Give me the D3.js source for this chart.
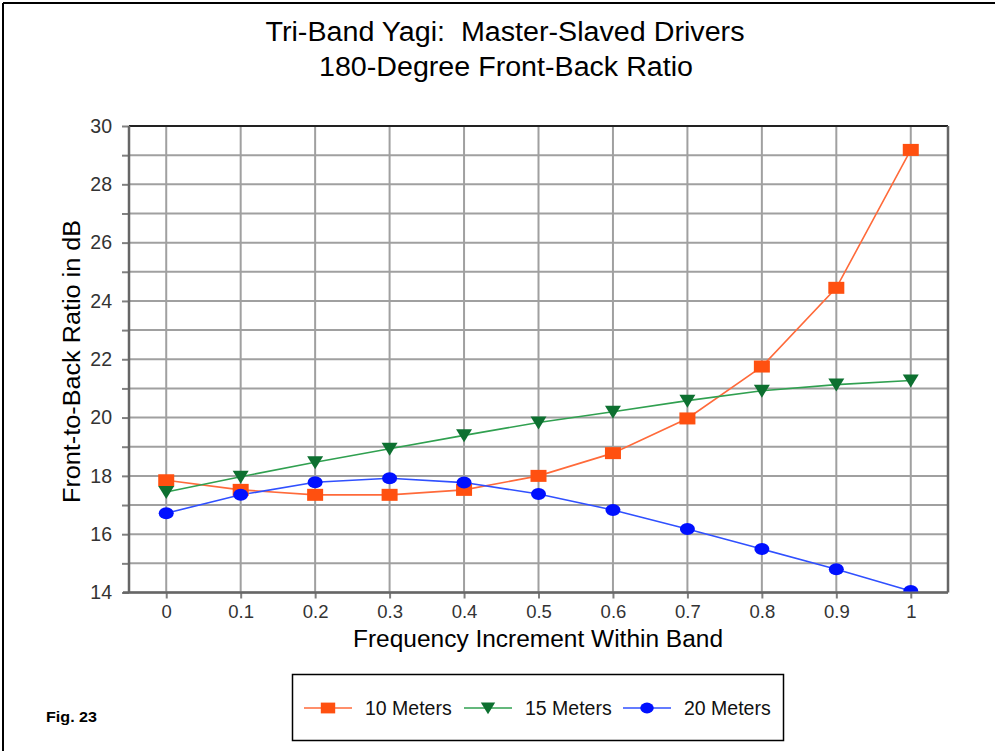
<!DOCTYPE html>
<html><head><meta charset="utf-8">
<script src="https://cdn.jsdelivr.net/npm/d3@7"></script>
<style>html,body{margin:0;padding:0;background:#fff;}svg{display:block;}</style>
</head><body>
<svg id="chart" width="995" height="751"></svg>
<script>
const xValues = [0, 0.1, 0.2, 0.3, 0.4, 0.5, 0.6, 0.7, 0.8, 0.9, 1];
const m10 = [17.85, 17.52, 17.35, 17.35, 17.52, 18.0, 18.78, 19.97, 21.75, 24.45, 29.18];
const m15 = [17.45, 17.97, 18.47, 18.93, 19.39, 19.83, 20.2, 20.58, 20.92, 21.13, 21.27];
const m20 = [16.72, 17.35, 17.78, 17.92, 17.77, 17.38, 16.83, 16.18, 15.49, 14.8, 14.05];
const seriesNames = ["10 Meters", "15 Meters", "20 Meters"];
const xTickLabels = ["0", "0.1", "0.2", "0.3", "0.4", "0.5", "0.6", "0.7", "0.8", "0.9", "1"];
const yTickValues = [14, 16, 18, 20, 22, 24, 26, 28, 30];

const series = [
  {name: seriesNames[0], values: m10, line: "#ff6a3a", fill: "#ff5010", shape: "square"},
  {name: seriesNames[1], values: m15, line: "#30a050", fill: "#0d7030", shape: "triangle"},
  {name: seriesNames[2], values: m20, line: "#3050ff", fill: "#0010ff", shape: "circle"}
];

const svg = d3.select("#chart");
const font = "'Liberation Sans', Arial, sans-serif";
const L = 129, R = 948, T = 126, B = 592.5;
const x = d3.scaleLinear().domain([-0.05, 1.05]).range([L, R]);
const y = d3.scaleLinear().domain([14, 30]).range([B, T]);

// outer frame
svg.append("line").attr("x1", 3).attr("x2", 995).attr("y1", 3).attr("y2", 3).attr("stroke", "#000").attr("stroke-width", 2);
svg.append("line").attr("x1", 3).attr("x2", 3).attr("y1", 3).attr("y2", 751).attr("stroke", "#000").attr("stroke-width", 2);

// titles
svg.append("text").attr("x", 505).attr("y", 41).attr("text-anchor", "middle")
  .attr("font-family", font).attr("font-size", 27).attr("fill", "#000")
  .attr("textLength", 479).attr("lengthAdjust", "spacingAndGlyphs")
  .text("Tri-Band Yagi:\u00a0\u00a0Master-Slaved Drivers");
svg.append("text").attr("x", 506).attr("y", 76).attr("text-anchor", "middle")
  .attr("font-family", font).attr("font-size", 27).attr("fill", "#000")
  .attr("textLength", 374).attr("lengthAdjust", "spacingAndGlyphs")
  .text("180-Degree Front-Back Ratio");

// gridlines
const yGrid = d3.range(14, 31, 1);
svg.append("g").selectAll("line").data(yGrid).join("line")
  .attr("x1", L).attr("x2", R).attr("y1", d => y(d)).attr("y2", d => y(d))
  .attr("stroke", "#a0a0a0").attr("stroke-width", 2);
svg.append("g").selectAll("line").data(xValues).join("line")
  .attr("x1", d => x(d)).attr("x2", d => x(d)).attr("y1", T).attr("y2", B)
  .attr("stroke", "#a0a0a0").attr("stroke-width", 2);

// axes
const yAxis = d3.axisLeft(y).tickValues(yGrid).tickSize(7).tickPadding(10)
  .tickFormat(d => yTickValues.includes(d) ? String(d) : "");
const gy = svg.append("g").attr("transform", `translate(${L},0)`).call(yAxis);
gy.select(".domain").remove();
gy.selectAll(".tick line").attr("stroke", "#808080").attr("stroke-width", 2);
gy.selectAll(".tick text").attr("font-family", font).attr("font-size", 19.5).attr("fill", "#333");

const xAxis = d3.axisBottom(x).tickValues(xValues).tickSize(6).tickPadding(6.5)
  .tickFormat((d, i) => xTickLabels[i]);
const gx = svg.append("g").attr("transform", `translate(0,${B})`).call(xAxis);
gx.select(".domain").remove();
gx.selectAll(".tick line").attr("stroke", "#808080").attr("stroke-width", 2);
gx.selectAll(".tick text").attr("font-family", font).attr("font-size", 18.5).attr("fill", "#333");

// plot frame
svg.append("line").attr("x1", L).attr("x2", R).attr("y1", T).attr("y2", T).attr("stroke", "#222").attr("stroke-width", 2);
svg.append("line").attr("x1", L).attr("x2", L).attr("y1", T).attr("y2", B).attr("stroke", "#666").attr("stroke-width", 2.5);
svg.append("line").attr("x1", L - 6).attr("x2", R).attr("y1", B).attr("y2", B).attr("stroke", "#666").attr("stroke-width", 2.5);
svg.append("line").attr("x1", R).attr("x2", R).attr("y1", T).attr("y2", B).attr("stroke", "#666").attr("stroke-width", 2.5);

// axis titles
svg.append("text").attr("x", 538).attr("y", 647).attr("text-anchor", "middle")
  .attr("font-family", font).attr("font-size", 23.5).attr("fill", "#000")
  .attr("textLength", 370).attr("lengthAdjust", "spacingAndGlyphs")
  .text("Frequency Increment Within Band");
svg.append("text").attr("transform", `translate(80,361.5) rotate(-90)`).attr("text-anchor", "middle")
  .attr("font-family", font).attr("font-size", 23).attr("fill", "#000")
  .attr("textLength", 283).attr("lengthAdjust", "spacingAndGlyphs")
  .text("Front-to-Back Ratio in dB");

// clip
svg.append("clipPath").attr("id", "plotclip").append("rect")
  .attr("x", L).attr("y", T).attr("width", R - L).attr("height", B - T - 1);

function drawMarker(g, shape, cx, cy, fill, s) {
  s = s || 1;
  if (shape === "square") {
    g.append("rect").attr("x", cx - 8 * s).attr("y", cy - 6 * s).attr("width", 16 * s).attr("height", 12 * s).attr("fill", fill);
  } else if (shape === "triangle") {
    g.append("path").attr("d", `M${cx - 8 * s},${cy - 6 * s}L${cx + 8 * s},${cy - 6 * s}L${cx},${cy + 7 * s}Z`).attr("fill", fill);
  } else {
    g.append("ellipse").attr("cx", cx).attr("cy", cy).attr("rx", 7.5 * s).attr("ry", 6 * s).attr("fill", fill);
  }
}

const plot = svg.append("g").attr("clip-path", "url(#plotclip)");
const lineGen = d3.line().x((d, i) => x(xValues[i])).y(d => y(d));
series.forEach(s => {
  plot.append("path").attr("d", lineGen(s.values)).attr("fill", "none").attr("stroke", s.line).attr("stroke-width", 1.6);
});
series.forEach(s => {
  const g = plot.append("g");
  s.values.forEach((v, i) => drawMarker(g, s.shape, x(xValues[i]), y(v), s.fill));
});

// legend
svg.append("rect").attr("x", 292.5).attr("y", 674.5).attr("width", 491).attr("height", 66)
  .attr("fill", "#fff").attr("stroke", "#000").attr("stroke-width", 1.5);
const legendX = [304, 464, 623];
series.forEach((s, i) => {
  const g = svg.append("g");
  const lx = legendX[i], ly = 708;
  g.append("line").attr("x1", lx).attr("x2", lx + 48).attr("y1", ly).attr("y2", ly).attr("stroke", s.line).attr("stroke-width", 1.6);
  drawMarker(g, s.shape, lx + 24, ly, s.fill, 0.9);
  g.append("text").attr("x", lx + 61).attr("y", ly + 7).attr("font-family", font).attr("font-size", 19.5).attr("fill", "#111").text(s.name);
});

// fig label
svg.append("text").attr("x", 46).attr("y", 722).attr("font-family", font)
  .attr("font-size", 14).attr("font-weight", "bold").attr("fill", "#000")
  .attr("textLength", 51).attr("lengthAdjust", "spacingAndGlyphs").text("Fig. 23");
</script>
</body></html>
